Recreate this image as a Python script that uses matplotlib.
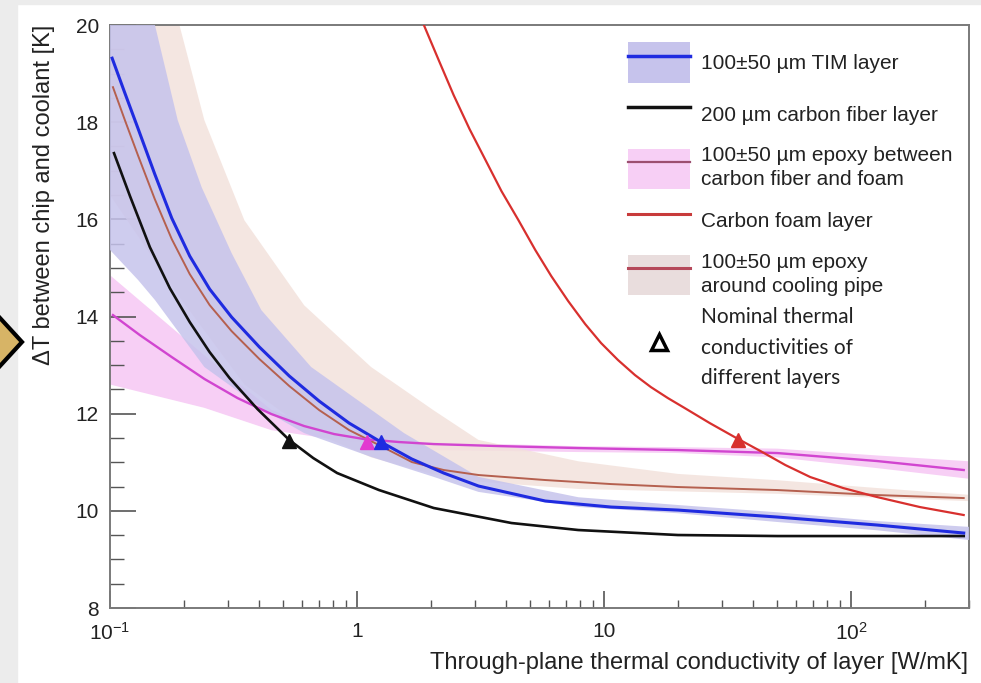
import matplotlib
matplotlib.use('Agg')
import matplotlib.pyplot as plt
import matplotlib.ticker as mticker
from matplotlib.patches import Patch, Rectangle, Polygon
from matplotlib.lines import Line2D


plt.rcParams.update({'font.family': ['Liberation Sans', 'DejaVu Sans'],
                     'font.size': 15, 'mathtext.default': 'regular'})

# ── Data ─────────────────────────────────────────────────────────────────────
# central curves: thermal conductivity k [W/mK] -> dT [K]
tim_k = [0.102, 0.1149, 0.1297, 0.1518, 0.1778, 0.2103, 0.2531, 0.3105, 0.4027,
         0.532, 0.7025, 0.928, 1.250, 1.667, 2.243, 3.104, 5.78, 10.67, 19.88,
         50.3, 127.3, 285.6]
tim_dt = [19.317, 18.597, 17.877, 16.930, 16.025, 15.243, 14.564, 13.988, 13.370,
          12.774, 12.259, 11.807, 11.416, 11.066, 10.778, 10.510, 10.202, 10.078,
          10.016, 9.872, 9.708, 9.543]

cf_k = [0.1038, 0.1205, 0.145, 0.1746, 0.2103, 0.2531, 0.3048, 0.3953, 0.532,
        0.665, 0.8306, 1.227, 2.044, 4.22, 7.86, 19.9, 50.3, 285.6]
cf_dt = [17.362, 16.477, 15.428, 14.584, 13.885, 13.267, 12.733, 12.095, 11.457,
         11.086, 10.778, 10.428, 10.058, 9.749, 9.605, 9.502, 9.481, 9.481]

epx_k = [0.1028, 0.1321, 0.1778, 0.2415, 0.3283, 0.450, 0.611, 0.808, 1.067,
         1.477, 2.044, 3.737, 7.86, 19.9, 50.3, 127.3, 285.6]
epx_dt = [14.029, 13.617, 13.165, 12.712, 12.321, 11.992, 11.745, 11.580, 11.477,
          11.416, 11.374, 11.333, 11.292, 11.251, 11.189, 11.025, 10.840]

foam_k = [1.829, 2.141, 2.461, 2.855, 3.313, 3.843, 4.500, 5.270, 6.114, 7.157,
          8.385, 9.725, 11.39, 13.34, 15.47, 18.12, 21.21, 26.76, 33.75, 42.97,
          54.19, 68.36, 92.85, 127.3, 189.8, 285.5]
foam_dt = [20.099, 19.276, 18.556, 17.856, 17.218, 16.580, 15.984, 15.366, 14.831,
           14.317, 13.844, 13.453, 13.103, 12.794, 12.547, 12.321, 12.115, 11.807,
           11.519, 11.230, 10.942, 10.695, 10.469, 10.284, 10.078, 9.914]

pipe_k = [0.1028, 0.1149, 0.1297, 0.1518, 0.1778, 0.2103, 0.2531, 0.3105, 0.4027,
          0.532, 0.7025, 0.928, 1.250, 1.667, 2.243, 3.104, 5.78, 10.67, 19.88,
          50.3, 127.3, 285.6]
pipe_dt = [18.720, 18.041, 17.321, 16.416, 15.593, 14.872, 14.235, 13.700, 13.123,
           12.568, 12.074, 11.663, 11.333, 11.004, 10.840, 10.737, 10.634, 10.551,
           10.490, 10.428, 10.325, 10.263]

# ±50 um bands (upper / lower edges)
tim_up_k = [0.1, 0.152, 0.188, 0.235, 0.311, 0.41, 0.652, 1.55, 3.10, 7.86,
            19.9, 50.3, 127, 300]
tim_up = [23.5, 20.0, 18.04, 16.66, 15.30, 14.13, 12.96, 11.60, 10.70, 10.28,
          10.12, 9.97, 9.79, 9.67]
tim_lo_k = [0.1, 0.13, 0.152, 0.241, 0.422, 0.611, 1.14, 2.04, 3.10, 7.86,
            19.9, 50.3, 127, 300]
tim_lo = [15.37, 14.75, 14.34, 12.96, 12.07, 11.60, 11.11, 10.70, 10.39, 10.08,
          9.95, 9.77, 9.60, 9.40]

pipe_up_k = [0.1, 0.191, 0.241, 0.35, 0.611, 1.14, 2.04, 3.10, 7.86, 19.9,
             50.3, 127, 300]
pipe_up = [25.5, 20.0, 18.04, 15.98, 14.23, 12.96, 12.07, 11.46, 11.02, 10.76,
           10.63, 10.47, 10.33]
pipe_lo_k = [0.1, 0.191, 0.35, 0.611, 1.14, 2.04, 3.10, 7.86, 19.9, 50.3,
             127, 300]
pipe_lo = [16.5, 14.4, 12.6, 11.7, 11.1, 10.75, 10.6, 10.45, 10.4, 10.35,
           10.27, 10.2]

epx_up_k = [0.1, 0.241, 0.45, 0.83, 2.04, 7.86, 19.9, 50.3, 127, 300]
epx_up = [14.85, 13.2, 12.08, 11.54, 11.41, 11.33, 11.31, 11.28, 11.14, 11.02]
epx_lo_k = [0.1, 0.241, 0.45, 0.83, 2.04, 7.86, 19.9, 50.3, 127, 300]
epx_lo = [12.6, 12.12, 11.66, 11.46, 11.25, 11.21, 11.19, 11.10, 10.88, 10.66]

# nominal conductivities (black, magenta, blue, red)
nom_k = [0.532, 1.10, 1.25, 34.7]
nom_dt = [11.43, 11.42, 11.42, 11.45]
nom_colors = ['#111111', '#e23ad0', '#1f2be0', '#d8302e']

x_ticks = [0.1, 1, 10, 100]
x_ticklabels = ['$10^{-1}$', '1', '10', '$10^{2}$']
y_ticks = [8, 10, 12, 14, 16, 18, 20]

labels = ['100±50 µm TIM layer',
          '200 µm carbon fiber layer',
          '100±50 µm epoxy between\ncarbon fiber and foam',
          'Carbon foam layer',
          '100±50 µm epoxy\naround cooling pipe',
          'Nominal thermal\nconductivities of\ndifferent layers']

# ── Colours ──────────────────────────────────────────────────────────────────
c_tim_band, c_pipe_band, c_epx_band = '#c6c3ec', '#f3e2dc', '#f7cff5'
c_tim, c_cf, c_epx, c_foam, c_pipe = '#1f2be0', '#111111', '#d145d0', '#d8302e', '#b5604f'

fig = plt.figure(figsize=(9.81, 6.83), dpi=100)
fig.patch.set_facecolor('white')

# screenshot frame (grey margin + slide arrow)
fig.patches.append(Rectangle((0, 1 - 4 / 683), 1, 4 / 683, transform=fig.transFigure,
                             color='#ececec', zorder=0))
fig.patches.append(Rectangle((0, 0), 17 / 981, 1, transform=fig.transFigure,
                             color='#ececec', zorder=0))
arrow = [(22, 342), (0, 318), (-22, 342), (0, 366)]
fig.patches.append(Polygon([(px / 981, 1 - py / 683) for px, py in arrow], closed=True,
                           transform=fig.transFigure, fc='#d7b466', ec='black',
                           lw=3, zorder=5))

ax = fig.add_axes([110 / 981, 1 - 608 / 683, 859 / 981, 583 / 683])
ax.set_xscale('log')
ax.set_xlim(0.1, 300)
ax.set_ylim(8, 20)

# bands
ax.fill(epx_up_k + epx_lo_k[::-1], epx_up + epx_lo[::-1], color=c_epx_band, lw=0, zorder=1)
ax.fill(pipe_up_k + pipe_lo_k[::-1], pipe_up + pipe_lo[::-1], color=c_pipe_band,
        lw=0, alpha=0.85, zorder=2)
ax.fill(tim_up_k + tim_lo_k[::-1], tim_up + tim_lo[::-1], color=c_tim_band,
        lw=0, alpha=0.85, zorder=3)

# curves
ax.plot(pipe_k, pipe_dt, color=c_pipe, lw=1.4, zorder=4)
ax.plot(epx_k, epx_dt, color=c_epx, lw=1.7, zorder=4)
ax.plot(cf_k, cf_dt, color=c_cf, lw=1.9, zorder=5)
ax.plot(tim_k, tim_dt, color=c_tim, lw=2.2, zorder=5)
ax.plot(foam_k, foam_dt, color=c_foam, lw=1.6, zorder=5)

for k, dt, c in zip(nom_k, nom_dt, nom_colors):
    ax.plot(k, dt, marker='^', ms=10, color=c, ls='none', zorder=6)

# axes style (ROOT-like)
for s in ax.spines.values():
    s.set_color('#7a7a7a')
    s.set_linewidth(1.4)
ax.set_xticks(x_ticks)
ax.set_xticklabels(x_ticklabels)
ax.xaxis.set_minor_locator(mticker.LogLocator(base=10, subs=range(2, 10), numticks=20))
ax.xaxis.set_minor_formatter(mticker.NullFormatter())
ax.set_yticks(y_ticks)
ax.yaxis.set_minor_locator(mticker.MultipleLocator(0.5))
ax.tick_params(axis='y', which='major', direction='in', length=19, width=1.2,
               color='#555555', labelcolor='#222222', pad=8, right=False)
ax.tick_params(axis='y', which='minor', direction='in', length=10, width=1.0,
               color='#555555', right=False)
ax.tick_params(axis='x', which='major', direction='in', length=12, width=1.2,
               color='#555555', labelcolor='#222222', pad=10, top=False)
ax.tick_params(axis='x', which='minor', direction='in', length=6, width=1.0,
               color='#555555', top=False)

fig.text(44 / 981, 1 - 25 / 683, 'ΔT between chip and coolant [K]', rotation=90,
         ha='center', va='top', color='#222222', fontsize=17)
fig.text(968 / 981, 1 - 663 / 683, 'Through-plane thermal conductivity of layer [W/mK]',
         ha='right', va='center', color='#222222', fontsize=17)

# legend
handles = [(Patch(fc=c_tim_band, ec='none'), Line2D([], [], color=c_tim, lw=2.5)),
           Line2D([], [], color=c_cf, lw=2.5),
           (Patch(fc=c_epx_band, ec='none'), Line2D([], [], color='#9c4f70', lw=1.6)),
           Line2D([], [], color='#c83b3b', lw=2.2),
           (Patch(fc='#e9dddd', ec='none'), Line2D([], [], color='#b5485a', lw=2.2)),
           Line2D([], [], ls='none', marker='^', mfc='white', mec='black', mew=2.5, ms=11)]
leg = ax.legend(handles, labels, loc='upper left', bbox_to_anchor=(0.603, 0.97),
                frameon=False, borderpad=0, borderaxespad=0, handlelength=3.0,
                handleheight=2.6, handletextpad=0.5, labelspacing=0.55,
                fontsize=15, labelcolor='#222222')
for t in leg.get_texts():
    t.set_linespacing(1.35)
leg.get_texts()[-1].set_fontfamily(['Lato', 'DejaVu Sans'])
leg.get_texts()[-1].set_linespacing(1.65)
leg.set_zorder(10)

fig.savefig('out.png', dpi=100)
